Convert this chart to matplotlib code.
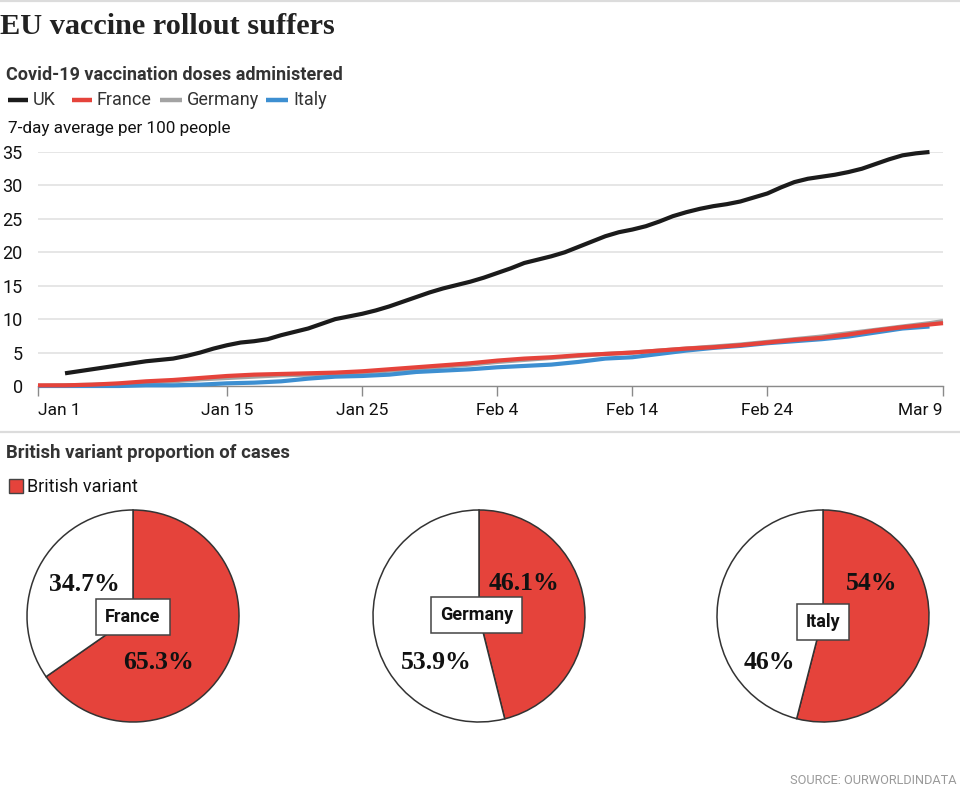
import numpy as np
import matplotlib
matplotlib.use("Agg")
import matplotlib.pyplot as plt
from matplotlib import font_manager
from matplotlib.lines import Line2D
from matplotlib.patches import Rectangle

# ---------------- data ----------------
start_date = np.datetime64("2021-01-01")
uk_days = np.arange(2, 67)
uk = [1.9, 2.2, 2.5, 2.8, 3.1, 3.4, 3.7, 3.9, 4.1, 4.5,
      5.0, 5.6, 6.1, 6.5, 6.7, 7.0, 7.6, 8.1, 8.6, 9.3,
      10.0, 10.4, 10.8, 11.3, 11.9, 12.6, 13.3, 14.0, 14.6, 15.1,
      15.6, 16.2, 16.9, 17.6, 18.4, 18.9, 19.4, 20.0, 20.8, 21.6,
      22.4, 23.0, 23.4, 23.9, 24.6, 25.4, 26.0, 26.5, 26.9, 27.2,
      27.6, 28.2, 28.8, 29.7, 30.5, 31.0, 31.3, 31.6, 32.0, 32.5,
      33.2, 33.9, 34.5, 34.8, 35.0]
eu_days = list(range(0, 67, 2)) + [67]
france = [0.1, 0.1, 0.2, 0.4, 0.7, 0.9, 1.2, 1.5, 1.7, 1.8,
          1.9, 2.0, 2.2, 2.5, 2.8, 3.1, 3.4, 3.8, 4.1, 4.3,
          4.6, 4.8, 5.0, 5.3, 5.6, 5.8, 6.1, 6.5, 6.9, 7.2,
          7.7, 8.3, 8.8, 9.2, 9.4]
germany = [0.0, 0.1, 0.2, 0.3, 0.5, 0.7, 1.0, 1.2, 1.4, 1.6,
           1.7, 1.8, 2.0, 2.3, 2.6, 2.9, 3.2, 3.6, 3.9, 4.2,
           4.5, 4.8, 5.0, 5.3, 5.6, 5.9, 6.2, 6.6, 7.0, 7.4,
           7.9, 8.4, 8.9, 9.4, 9.7]
italy_days = list(range(0, 67, 2))
italy = [0.0, 0.0, 0.0, 0.0, 0.1, 0.1, 0.2, 0.4, 0.5, 0.7,
         1.1, 1.4, 1.5, 1.7, 2.1, 2.3, 2.5, 2.8, 3.0, 3.2,
         3.6, 4.1, 4.3, 4.8, 5.3, 5.7, 6.0, 6.4, 6.7, 7.0,
         7.4, 8.0, 8.6, 8.9]

tick_days = [0, 14, 24, 34, 44, 54, 67]
tick_labels = ["Jan 1", "Jan 15", "Jan 25", "Feb 4", "Feb 14", "Feb 24", "Mar 9"]
y_ticks = [0, 5, 10, 15, 20, 25, 30, 35]

pie_countries = ["France", "Germany", "Italy"]
british_share = [65.3, 46.1, 54.0]
other_share = [34.7, 53.9, 46.0]
british_labels = ["65.3%", "46.1%", "54%"]
other_labels = ["34.7%", "53.9%", "46%"]

# ---------------- style ----------------
names = {f.name for f in font_manager.fontManager.ttflist}
COND = "Liberation Sans Narrow" if "Liberation Sans Narrow" in names else "Roboto"
SANS = [COND, "DejaVu Sans"]
SERIF = ["Liberation Serif", "DejaVu Serif"]

C_UK = "#1b1b1b"
C_FR = "#e5433b"
C_DE = "#a3a3a3"
C_IT = "#3d8fd1"
RED = "#e5433b"

W, H = 960, 808
fig = plt.figure(figsize=(W / 100, H / 100), dpi=100)
fig.patch.set_facecolor("white")


def fx(x):
    return x / W


def fy(y):
    return 1 - y / H


# top border and separator
fig.add_artist(Line2D([0, 1], [fy(1), fy(1)], color="#dcdcdc", lw=1.6))
fig.add_artist(Line2D([0, 1], [fy(432), fy(432)], color="#dcdcdc", lw=1.6))

# titles
fig.text(fx(0), fy(26), "EU vaccine rollout suffers", family=SERIF, weight="bold",
         fontsize=21.8, color="#222222", va="center", ha="left")
fig.text(fx(6), fy(75), "Covid-19 vaccination doses administered", family=SANS,
         weight="bold", fontsize=13, color="#333333", va="center", ha="left")

# legend row
leg = [("UK", C_UK, 8, 28, 33), ("France", C_FR, 72, 92, 97),
       ("Germany", C_DE, 160, 182, 187), ("Italy", C_IT, 266, 288, 293)]
for name, col, x0, x1, xt in leg:
    fig.add_artist(Line2D([fx(x0), fx(x1)], [fy(100), fy(100)], color=col, lw=3.2,
                          solid_capstyle="butt"))
    fig.text(fx(xt), fy(100), name, family=SANS, fontsize=13, color="#333333",
             va="center", ha="left")

fig.text(fx(8), fy(128), "7-day average per 100 people", family=SANS, fontsize=12.3,
         color="#111111", va="center", ha="left")

# ---------------- line chart ----------------
ax = fig.add_axes([fx(38), fy(386), (943 - 38) / W, (386 - 152) / H])
ax.set_facecolor("none")


def to_dates(days):
    return start_date + np.array(days, dtype="timedelta64[D]")


kw = dict(lw=3.0, solid_capstyle="butt", solid_joinstyle="round", clip_on=False)
ax.plot(to_dates(eu_days), germany, color=C_DE, **kw)
ax.plot(to_dates(italy_days), italy, color=C_IT, **kw)
ax.plot(to_dates(eu_days), france, color=C_FR, **kw)
ax.plot(to_dates(uk_days), uk, color=C_UK, **kw)

ax.set_xlim(to_dates([0])[0], to_dates([67])[0])
ax.set_ylim(0, 35)
ax.set_yticks(y_ticks)
ax.set_yticklabels([str(v) for v in y_ticks], family=SANS, fontsize=13, color="#111111")
ax.set_xticks(to_dates(tick_days))
ax.set_xticklabels(tick_labels, family=SANS, fontsize=12.5, color="#111111")
xl = ax.get_xticklabels()
xl[0].set_ha("left")
xl[-1].set_ha("right")
ax.tick_params(axis="y", length=0, pad=11)
ax.tick_params(axis="x", length=7, width=1, color="#8a8a8a", pad=5)
ax.grid(axis="y", color="#e2e2e2", lw=1.2)
ax.set_axisbelow(True)
for s in ["top", "right", "left"]:
    ax.spines[s].set_visible(False)
ax.spines["bottom"].set_color("#8a8a8a")
ax.spines["bottom"].set_linewidth(1)
ax.spines["bottom"].set_zorder(0.5)

# ---------------- pies ----------------
fig.text(fx(6), fy(453), "British variant proportion of cases", family=SANS,
         weight="bold", fontsize=13.3, color="#333333", va="center", ha="left")
fig.add_artist(Rectangle((fx(9), fy(493)), 14 / W, 14 / H, facecolor=RED,
                         edgecolor="#444444", lw=1, transform=fig.transFigure))
fig.text(fx(27), fy(487), "British variant", family=SANS, fontsize=13,
         color="#111111", va="center", ha="left")

centers = [(133, 616), (479, 616), (823, 616)]
R = 106
brit_pos = [(0.24, -0.44), (0.42, 0.31), (0.46, 0.31)]
other_pos = [(-0.46, 0.30), (-0.40, -0.44), (-0.51, -0.44)]
box_pos = [(0.0, -0.01), (-0.02, 0.01), (0.0, -0.06)]

for i, (cx, cy) in enumerate(centers):
    pa = fig.add_axes([fx(cx - R), fy(cy + R), 2 * R / W, 2 * R / H])
    pa.pie([british_share[i], other_share[i]], colors=[RED, "white"], startangle=90,
           counterclock=False, radius=1,
           wedgeprops=dict(edgecolor="#333333", linewidth=1.1))
    pa.set_xlim(-1.0, 1.0)
    pa.set_ylim(-1.0, 1.0)
    pa.set_aspect("equal")
    pa.axis("off")
    for a in pa.patches:
        a.set_clip_on(False)
    pa.text(*brit_pos[i], british_labels[i], family=SERIF, weight="bold",
            fontsize=18.5, color="#111111", ha="center", va="center")
    pa.text(*other_pos[i], other_labels[i], family=SERIF, weight="bold",
            fontsize=18.5, color="#111111", ha="center", va="center")
    pa.text(*box_pos[i], pie_countries[i], family=SANS, weight="bold", fontsize=13,
            color="#111111", ha="center", va="center",
            bbox=dict(boxstyle="square,pad=0.5", facecolor="white",
                      edgecolor="#444444", lw=1.1))

fig.text(fx(957), fy(780), "SOURCE: OURWORLDINDATA", family=SANS, fontsize=9.2,
         color="#9a9a9a", va="center", ha="right")

fig.savefig("out.png", dpi=100, facecolor="white")
